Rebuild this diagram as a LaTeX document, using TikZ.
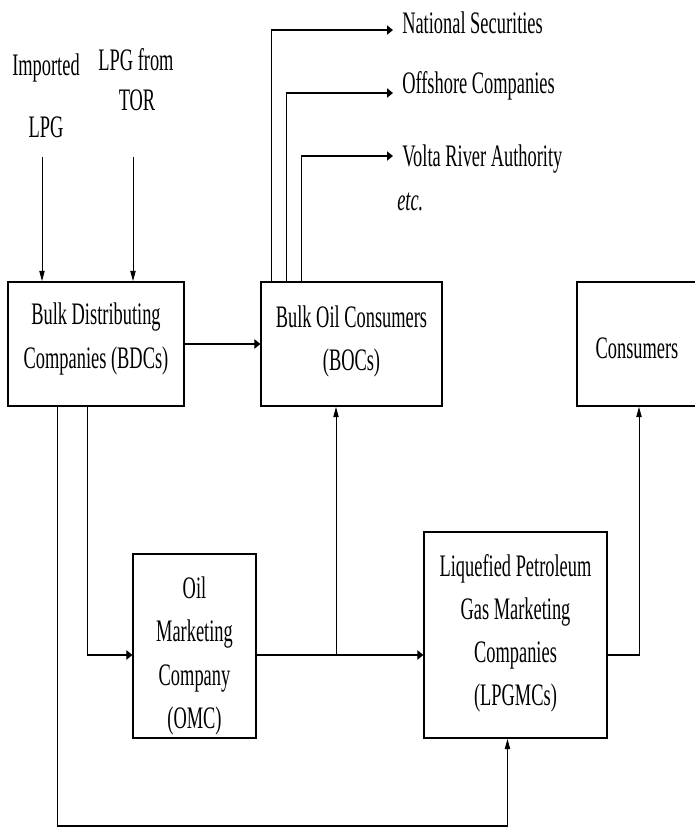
\documentclass[tikz,border=0pt]{standalone}
\usepackage{fontspec}
\setmainfont{Liberation Serif}
\usetikzlibrary{arrows.meta}
\begin{document}
\begin{tikzpicture}[
  box/.style={draw, line width=0.8pt, inner sep=0pt},
  txt/.style={align=center, inner sep=0pt, font=\fontsize{13.8pt}{19pt}\selectfont},
  lbl/.style={inner sep=0pt, font=\fontsize{13.8pt}{19pt}\selectfont},
  rlbl/.style={lbl, inner xsep=6.75pt, anchor=base west},
  arr/.style={line width=0.7pt, -{Triangle[length=4.5pt,width=4pt]}},
  ln/.style={line width=0.7pt}
]
\useasboundingbox (0,0) rectangle (520.5pt,-621pt);
\begin{scope}[transform canvas={yscale=1.7}, x=0.75pt, y=-0.441176pt]
% boxes
\node[box, minimum width=132pt, minimum height=54.7pt] (bdc) at (96,344) {};
\node[box, minimum width=135.75pt, minimum height=54.7pt] (boc) at (351.5,344) {};
\node[box, minimum width=92.25pt, minimum height=54.7pt] (cons) at (638.5,344) {};
\node[box, minimum width=92.25pt, minimum height=81.18pt] (omc) at (194.5,646) {};
\node[box, minimum width=137.25pt, minimum height=90.88pt] (lpg) at (515.5,635) {};
% box texts
\node[txt] (bdct) at (96,339) {Bulk Distributing\\Companies (BDCs)};
\node[txt] (boct) at (351.5,341.5) {Bulk Oil Consumers\\(BOCs)};
\node[txt] (const) at (637,348) {Consumers};
\node[txt] (omct) at (194.5,656) {Oil\\Marketing\\Company\\(OMC)};
\node[txt] (lpgt) at (515.5,633) {Liquefied Petroleum\\Gas Marketing\\Companies\\(LPGMCs)};
% top labels
\node[lbl, anchor=base] (imp) at (46,75) {Imported};
\node[lbl, anchor=base] (implpg) at (46,137) {LPG};
\node[lbl, anchor=base] (tor1) at (136,70) {LPG from};
\node[lbl, anchor=base] (tor2) at (137,110) {TOR};
% right labels
\node[rlbl] (ns) at (393,33) {National Securities};
\node[rlbl] (oc) at (393,93) {Offshore Companies};
\node[rlbl] (vra) at (393,166) {Volta River Authority};
\node[lbl, anchor=base west] (etc) at (397,210) {\itshape etc.};
% connectors
\coordinate (impA) at (42,157);
\coordinate (torA) at (133,157);
\draw[arr] (impA) -- (impA |- bdc.north);
\draw[arr] (torA) -- (torA |- bdc.north);
\draw[arr] ([xshift=8.25pt]boc.north west) |- ([yshift=1.3pt]ns.base west);
\draw[arr] ([xshift=19.5pt]boc.north west) |- (oc.base west);
\draw[arr] ([xshift=30.75pt]boc.north west) |- ([yshift=4.4pt]vra.base west);
\draw[arr] (bdc.east) -- (boc.west);
\coordinate (bl) at (57,826);
\draw[arr] (bdc.south -| bl) -- (bl) -| ([xshift=63pt]lpg.south west);
\coordinate (om) at (87,655);
\draw[arr] (bdc.south -| om) |- (omc.west |- om);
\coordinate (mid) at (336,655);
\draw[arr] (omc.east |- mid) -- (lpg.west |- mid);
\draw[arr] (mid) -- (mid |- boc.south);
\coordinate (rt) at (639,655);
\draw[arr] (lpg.east |- rt) -| (rt |- cons.south);
\end{scope}
\end{tikzpicture}
\end{document}
